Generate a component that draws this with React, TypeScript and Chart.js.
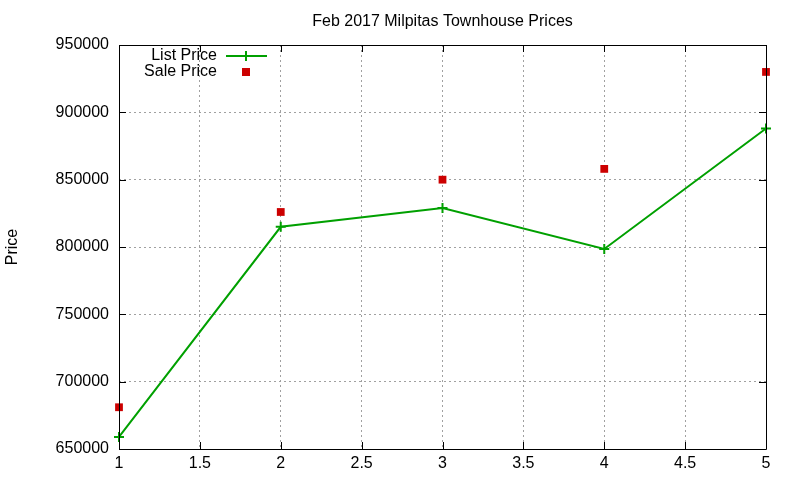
import React, { useEffect, useRef } from "react";
import { Chart, registerables } from "chart.js";

Chart.register(...registerables);

const titleText = "Feb 2017 Milpitas Townhouse Prices";
const yTitle = "Price";
const xValues = [1, 2, 3, 4, 5];
const listPrice = [659000, 815000, 829000, 798500, 888000];
const salePrice = [681000, 826000, 850000, 858000, 930000];
const xTicks = [1, 1.5, 2, 2.5, 3, 3.5, 4, 4.5, 5];
const yTicks = [650000, 700000, 750000, 800000, 850000, 900000, 950000];

const FONT = "'Liberation Sans', Arial, sans-serif";
const GREEN = "#00a000";
const RED = "#cc0000";

const framePlugin = {
  id: "gnuFrame",
  afterDraw(chart: any) {
    const { ctx, chartArea: a, scales } = chart;
    ctx.save();
    ctx.strokeStyle = "#000";
    ctx.lineWidth = 1;
    ctx.beginPath();
    ctx.rect(Math.round(a.left) + 0.5, Math.round(a.top) + 0.5, Math.round(a.right - a.left), Math.round(a.bottom - a.top));
    ctx.stroke();
    const tl = 7;
    ctx.beginPath();
    xTicks.forEach((v) => {
      const px = Math.round(scales.x.getPixelForValue(v)) + 0.5;
      ctx.moveTo(px, a.bottom);
      ctx.lineTo(px, a.bottom - tl);
      ctx.moveTo(px, a.top);
      ctx.lineTo(px, a.top + tl);
    });
    yTicks.forEach((v) => {
      const py = Math.round(scales.y.getPixelForValue(v)) + 0.5;
      ctx.moveTo(a.left, py);
      ctx.lineTo(a.left + tl, py);
      ctx.moveTo(a.right, py);
      ctx.lineTo(a.right - tl, py);
    });
    ctx.stroke();

    // title
    ctx.fillStyle = "#000";
    ctx.font = `16px ${FONT}`;
    ctx.textAlign = "center";
    ctx.textBaseline = "middle";
    ctx.fillText(titleText, (a.left + a.right) / 2, 22);

    // legend
    const ds = chart.data.datasets;
    const textRight = 217;
    const sampleX0 = 226;
    const sampleX1 = 267;
    const sampleC = 246;
    const rows = [56, 72];
    ctx.textAlign = "right";
    ds.forEach((d: any, i: number) => {
      const y = rows[i];
      ctx.fillStyle = "#000";
      ctx.fillText(d.label, textRight, y);
      if (i === 0) {
        ctx.strokeStyle = GREEN;
        ctx.lineWidth = 2;
        ctx.beginPath();
        ctx.moveTo(sampleX0, y);
        ctx.lineTo(sampleX1, y);
        ctx.moveTo(sampleC, y - 5);
        ctx.lineTo(sampleC, y + 5);
        ctx.stroke();
      } else {
        ctx.fillStyle = RED;
        ctx.fillRect(sampleC - 4, y - 4, 8, 8);
      }
    });
    ctx.restore();
  },
};

export default function App() {
  const ref = useRef<HTMLCanvasElement>(null);
  useEffect(() => {
    document.body.style.margin = "0";
    const chart = new Chart(ref.current as HTMLCanvasElement, {
      type: "scatter",
      data: {
        datasets: [
          {
            label: "List Price",
            data: xValues.map((x, i) => ({ x, y: listPrice[i] })),
            showLine: true,
            borderColor: GREEN,
            backgroundColor: GREEN,
            borderWidth: 2,
            pointStyle: "cross",
            pointRadius: 5,
            pointBorderWidth: 2,
            pointBorderColor: GREEN,
            tension: 0,
            clip: false,
          },
          {
            label: "Sale Price",
            data: xValues.map((x, i) => ({ x, y: salePrice[i] })),
            showLine: false,
            borderColor: RED,
            backgroundColor: RED,
            pointStyle: "rect",
            pointRadius: 5.5,
            pointBorderWidth: 0,
            clip: false,
          },
        ],
      },
      options: {
        animation: false,
        responsive: false,
        layout: { padding: { top: 45, right: 34, bottom: 0, left: 0 } },
        plugins: { legend: { display: false }, title: { display: false }, tooltip: { enabled: false } },
        scales: {
          x: {
            type: "linear",
            min: 1,
            max: 5,
            afterBuildTicks: (s: any) => {
              s.ticks = xTicks.map((v) => ({ value: v }));
            },
            afterFit: (s: any) => {
              s.height = 31;
            },
            ticks: {
              color: "#000",
              font: { family: FONT, size: 16 },
              padding: 5,
              maxRotation: 0,
              autoSkip: false,
              callback: (v: any) => String(v),
            },
            grid: { color: "#a0a0a0", lineWidth: 1, drawTicks: false },
            border: { display: false, dash: [2, 3] },
          },
          y: {
            type: "linear",
            min: 650000,
            max: 950000,
            afterBuildTicks: (s: any) => {
              s.ticks = yTicks.map((v) => ({ value: v }));
            },
            afterFit: (s: any) => {
              s.width = 119;
            },
            ticks: {
              color: "#000",
              font: { family: FONT, size: 16 },
              padding: 10,
              autoSkip: false,
              callback: (v: any) => String(v),
            },
            grid: { color: "#a0a0a0", lineWidth: 1, drawTicks: false },
            border: { display: false, dash: [2, 3] },
            title: {
              display: true,
              text: yTitle,
              color: "#000",
              font: { family: FONT, size: 16 },
              padding: { top: 3, bottom: 0 },
            },
          },
        },
      },
      plugins: [framePlugin],
    });
    return () => chart.destroy();
  }, []);
  return <canvas ref={ref} width={800} height={480} style={{ display: "block" }} />;
}
